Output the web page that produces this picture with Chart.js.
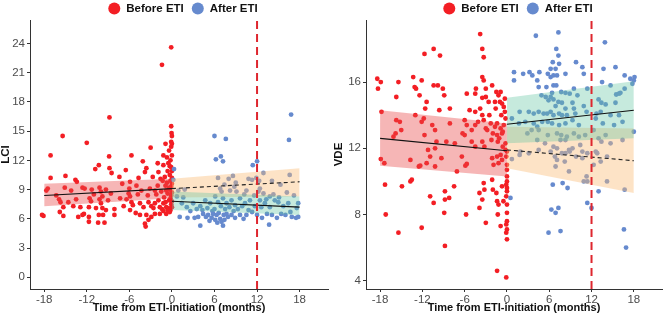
<!DOCTYPE html>
<html><head><meta charset="utf-8">
<script src="https://cdn.jsdelivr.net/npm/chart.js@4/dist/chart.umd.min.js"></script>
<style>
html,body{margin:0;padding:0;background:#fff;}
#wrap{position:relative;width:666px;height:317px;overflow:hidden;}
.panel{position:absolute;top:0;width:333px;height:317px;}
</style></head><body>
<div id="wrap">
<div class="panel" style="left:0"><canvas id="c1" width="333" height="317"></canvas></div>
<div class="panel" style="left:333px"><canvas id="c2" width="333" height="317"></canvas></div>
</div>
<script>
// ---------- data ----------
const legendLabels = ['Before ETI', 'After ETI'];
const xTitle = 'Time from ETI-initiation (months)';
const xTicks = [-18, -12, -6, 0, 6, 12, 18];
const lciTicks = [0, 3, 6, 9, 12, 15, 18, 21, 24];
const vdeTicks = [4, 8, 12, 16];
const cutoffMonth = 12;

// LCI, before ETI: [months, LCI]
const lciBefore = [[-18.3,6.4],[-18.1,6.3],[-17.7,8.9],[-17.5,9.1],[-17.1,10.2],[-17.1,12.5],[-15.9,8.0],[-15.8,6.7],[-15.7,7.7],[-15.4,14.5],[-15.3,7.2],[-15.3,6.3],[-15.1,9.2],[-15.0,10.4],[-14.6,7.7],[-13.6,10.0],[-13.5,8.0],[-13.4,9.8],[-13.2,6.2],[-12.9,7.2],[-12.6,9.2],[-12.6,6.4],[-12.4,6.5],[-12.3,9.1],[-12.0,13.8],[-11.7,7.2],[-11.7,6.2],[-11.7,5.7],[-11.6,8.1],[-11.4,7.8],[-11.3,9.0],[-10.8,11.1],[-10.7,7.1],[-10.4,5.6],[-10.3,11.5],[-10.3,6.4],[-10.2,9.2],[-10.2,8.0],[-10.0,8.8],[-10.0,7.6],[-9.8,8.3],[-9.8,7.1],[-9.7,6.4],[-9.5,5.6],[-9.3,9.0],[-9.3,6.9],[-8.85,12.4],[-8.8,16.4],[-8.8,11.2],[-8.6,8.6],[-8.5,10.7],[-8.1,7.0],[-8.1,6.4],[-7.4,10.3],[-7.3,8.1],[-6.4,8.0],[-6.1,8.6],[-6.0,9.1],[-5.9,9.8],[-5.9,8.3],[-5.9,6.9],[-5.7,12.5],[-5.7,7.7],[-5.5,7.4],[-5.1,6.6],[-4.8,8.5],[-4.5,7.6],[-4.5,6.4],[-4.3,8.9],[-4.1,11.9],[-4.0,7.2],[-3.8,10.8],[-3.8,5.5],[-3.7,5.2],[-3.6,11.2],[-3.6,6.4],[-3.3,7.7],[-3.3,5.9],[-3.1,9.1],[-3.0,13.3],[-2.9,7.3],[-2.9,6.2],[-2.4,8.9],[-2.4,7.6],[-2.4,6.5],[-2.2,8.5],[-1.9,10.8],[-1.9,7.9],[-1.7,7.2],[-1.7,6.5],[-1.5,8.8],[-1.4,21.8],[-1.2,12.5],[-1.2,11.5],[-1.2,7.6],[-1.2,6.8],[-0.9,13.7],[-0.8,7.2],[-0.8,6.5],[-0.5,11.7],[-0.5,7.1],[-0.4,7.9],[-0.1,23.6],[-0.1,15.5],[-0.05,14.8],[0,14.5],[-0.1,13.9],[0,13.7],[-0.1,13.4],[0,12.5],[-0.2,12.0],[-0.1,11.3],[0,10.9],[-0.3,10.5],[0,10.2],[-0.2,9.9],[0,9.6],[-0.1,9.3],[-0.3,9.0],[0,8.7],[-0.1,8.4],[-0.2,8.1],[0,7.8],[-0.1,7.5],[0,7.2],[-0.2,6.9],[-1.0,10.3],[-0.7,9.7],[-0.9,9.4],[-0.6,8.6],[-1.1,8.2],[-0.8,8.9],[-0.6,10.9],[-1.3,9.9],[-0.4,9.2],[-0.9,7.7],[-0.6,6.9],[-1.4,7.0],[-2.0,9.4],[-1.6,10.1],[-2.6,7.1],[-3.4,8.4],[-0.3,11.4],[-0.7,12.3],[-0.4,13.0],[-0.3,6.7],[-16.3,8.4],[-14.2,8.9],[-13.9,7.3],[-11.0,8.5],[-9.0,7.9],[-7.0,9.6],[-6.8,7.3],[-5.0,9.4],[-4.7,10.2],[-6.5,11.0],[-2.7,10.3],[-2.0,11.7]];

// LCI, after ETI
const lciAfter = [[0.2,10.0],[0.3,11.1],[0.7,8.3],[0.9,8.9],[1.1,6.2],[1.4,7.6],[1.8,9.0],[2.1,7.2],[2.2,6.1],[3.0,7.6],[3.2,6.1],[3.7,6.2],[4.0,7.3],[4.0,5.3],[4.4,6.5],[4.7,7.9],[4.8,6.2],[5.1,6.4],[5.4,7.6],[5.6,6.1],[5.8,6.5],[6.0,14.5],[6.1,8.3],[6.1,5.9],[6.2,12.1],[6.3,6.4],[6.5,10.2],[6.5,7.7],[6.8,9.1],[6.8,6.0],[6.9,12.4],[7.0,8.8],[7.0,5.7],[7.2,11.9],[7.2,8.1],[7.2,5.3],[7.3,6.4],[7.6,14.2],[7.7,7.6],[7.7,6.5],[8.0,10.1],[8.2,8.9],[8.4,7.9],[8.4,6.4],[8.6,10.4],[8.8,9.3],[8.9,7.4],[8.9,6.1],[9.1,8.8],[9.6,8.1],[9.6,6.4],[10.1,6.0],[10.3,7.6],[10.5,8.9],[10.5,6.4],[10.8,10.1],[11.0,7.9],[11.3,10.0],[11.3,6.7],[11.4,11.5],[11.7,7.3],[12.0,11.9],[12.0,6.4],[12.2,8.8],[12.3,9.9],[12.4,9.1],[12.4,7.9],[12.7,6.1],[12.9,10.7],[12.9,8.6],[13.1,7.6],[13.4,6.5],[13.7,5.4],[13.8,8.3],[13.8,7.2],[14.1,9.9],[14.1,6.4],[14.5,7.9],[14.8,6.1],[15.0,7.7],[15.3,9.5],[15.4,6.5],[15.7,7.3],[16.0,6.4],[16.4,7.6],[16.5,14.1],[16.6,10.5],[16.7,6.7],[16.8,16.7],[16.9,6.2],[17.5,6.1],[17.6,7.1],[17.8,7.6],[17.8,6.2],[4.3,6.9],[5.0,7.1],[5.3,5.8],[5.7,6.8],[6.0,7.0],[6.4,5.6],[6.6,6.6],[6.9,7.3],[7.4,5.9],[7.5,7.0],[7.9,6.2],[8.1,7.2],[8.7,6.8],[9.3,7.0],[9.9,7.3],[10.8,6.9],[11.6,8.4],[12.6,7.2],[13.3,8.0],[14.3,8.5],[15.1,8.2],[16.2,8.7],[17.2,8.4],[3.5,7.0],[2.6,6.8],[1.6,8.2],[9.0,9.7],[7.4,9.5],[10.2,8.5],[11.9,10.2]];

// VDE, before ETI
const vdeBefore = [[-3.8,18.9],[-3.5,18.0],[-3.3,17.5],[-11.7,17.7],[-10.4,18.0],[-9.5,17.6],[-18.4,16.2],[-17.9,16.0],[-18.3,15.6],[-15.4,16.0],[-15.7,15.1],[-13.3,16.3],[-12.1,16.1],[-13.1,15.7],[-12.9,15.6],[-12.4,15.2],[-10.4,15.8],[-9.8,15.8],[-9.1,15.6],[-8.9,15.2],[-11.4,14.8],[-11.6,14.4],[-8.1,14.4],[-9.6,14.3],[-3.5,16.3],[-4.4,15.6],[-3.3,16.1],[-3.0,15.6],[-2.1,15.8],[-5.7,15.3],[-4.5,15.3],[-3.5,15.05],[-3.0,15.1],[-1.5,15.4],[-0.9,15.4],[-1.2,15.2],[-2.6,14.8],[-1.7,14.8],[-1.0,14.8],[-0.7,14.7],[-0.45,14.5],[-0.8,14.0],[-5.3,14.3],[-4.5,14.2],[-3.8,14.4],[-1.6,14.4],[-2.5,14.0],[-3.5,14.0],[-3.3,13.7],[-4.1,13.6],[-17.8,14.2],[-15.7,13.7],[-15.2,13.6],[-13.0,14.0],[-11.8,13.8],[-12.1,13.6],[-10.6,13.4],[-10.2,13.1],[-15.0,13.1],[-15.8,12.9],[-16.1,12.7],[-11.7,12.8],[-8.1,13.5],[-6.0,13.7],[-5.7,13.4],[-6.3,12.9],[-6.0,12.8],[-5.0,13.1],[-4.5,13.4],[-3.0,13.2],[-2.3,13.5],[-1.7,13.3],[-1.4,13.5],[-0.9,13.2],[-0.45,13.4],[-0.7,12.9],[-1.4,12.8],[-2.8,13.1],[-10.0,12.4],[-8.6,12.4],[-7.4,12.3],[-5.0,12.4],[-4.5,12.1],[-3.5,12.4],[-3.2,12.1],[-2.2,12.5],[-1.3,12.4],[-0.6,12.1],[-0.2,12.3],[-11.2,11.9],[-10.2,12.0],[-17.9,11.35],[-17.4,11.1],[-13.7,11.3],[-12.5,10.9],[-12.3,10.95],[-11.4,11.1],[-10.9,11.5],[-10.2,10.9],[-9.3,11.4],[-6.4,11.5],[-5.9,10.95],[-5.7,11.05],[-7.1,10.6],[-2.1,11.4],[-1.9,11.0],[-1.4,11.5],[-1.2,11.1],[-0.9,11.6],[-0.7,11.3],[-17.3,9.8],[-14.9,9.7],[-13.5,10.1],[-13.7,10.0],[-10.9,9.1],[-10.4,8.7],[-8.8,9.4],[-8.8,8.9],[-8.2,9.0],[-7.5,9.7],[-3.3,9.9],[-3.9,9.3],[-3.2,9.5],[-3.5,8.9],[-2.1,10.1],[-2.0,9.5],[-1.5,9.3],[-1.4,8.8],[-1.2,8.6],[-0.7,9.7],[-0.5,8.8],[0,10.3],[0,10.0],[-0.1,9.8],[0,9.6],[0,9.4],[-0.1,9.1],[0,8.6],[0,8.1],[0,7.6],[-0.1,7.4],[0,7.1],[-0.1,6.9],[0,6.5],[0,11.8],[-0.1,11.5],[0,11.0],[0,10.7],[-17.2,8.0],[-15.4,6.9],[-12.1,7.2],[-8.9,8.1],[-8.8,6.1],[-5.8,8.0],[-3.9,8.4],[-3.0,7.5],[-1.3,8.0],[-0.9,7.3],[-1.4,4.6],[-0.1,4.2],[-0.3,14.2],[-0.2,13.8],[-0.6,13.0],[-1.1,12.6],[-2.0,12.9],[-0.3,15.0],[-0.2,11.9]];

// VDE, after ETI
const vdeAfter = [[4.1,18.8],[7.3,19.0],[13.9,18.4],[7.0,18.0],[7.3,17.6],[6.5,17.2],[7.4,17.1],[6.2,16.8],[6.9,16.8],[9.8,17.2],[10.7,16.9],[13.7,16.8],[15.4,16.9],[1.0,16.6],[2.3,16.5],[3.2,16.6],[3.6,16.4],[4.6,16.6],[5.8,16.5],[6.2,16.3],[6.6,16.4],[7.1,16.4],[8.3,16.5],[10.9,16.5],[16.7,16.4],[17.5,16.2],[18.1,16.3],[1.0,16.1],[4.3,16.1],[4.5,15.7],[5.6,15.7],[6.6,15.8],[7.0,15.8],[7.7,15.4],[8.3,15.35],[8.9,15.3],[9.5,15.6],[11.4,15.6],[13.5,16.0],[14.7,15.8],[15.5,15.25],[16.1,15.35],[16.7,15.6],[17.8,15.9],[18.0,16.1],[4.9,15.2],[5.5,15.1],[5.9,14.9],[6.2,15.1],[6.4,15.35],[6.6,14.95],[6.9,14.55],[7.3,14.8],[7.8,14.75],[8.3,14.4],[9.3,14.75],[9.5,14.4],[10.0,15.2],[10.9,14.55],[13.0,14.95],[13.4,14.75],[14.0,14.65],[15.4,14.75],[15.9,15.3],[1.8,14.2],[3.1,14.2],[3.8,14.1],[4.5,14.2],[5.2,14.1],[5.7,14.1],[6.2,14.2],[6.6,14.0],[7.4,14.1],[7.8,14.0],[8.5,14.0],[9.7,14.1],[11.3,14.2],[12.7,14.1],[13.3,14.2],[14.7,14.0],[15.9,14.0],[0.7,13.8],[1.7,13.5],[2.6,13.6],[3.8,13.5],[4.3,13.3],[5.0,13.6],[5.8,13.6],[6.4,13.5],[7.4,13.4],[8.3,13.5],[9.3,13.7],[10.2,13.4],[12.6,13.8],[13.6,13.5],[15.2,13.4],[16.4,13.6],[2.9,12.9],[3.5,13.1],[4.5,13.1],[5.8,12.8],[7.1,12.9],[7.7,12.8],[8.5,12.7],[9.5,12.9],[10.2,12.7],[11.1,12.8],[12.3,13.1],[13.0,12.6],[14.0,12.8],[18.0,13.0],[4.3,12.5],[5.4,12.3],[6.6,12.1],[7.6,12.5],[8.3,12.5],[9.3,12.0],[10.4,12.2],[13.4,12.4],[14.7,12.3],[16.4,12.5],[1.9,11.8],[3.1,11.7],[4.5,11.9],[6.2,11.8],[7.1,12.0],[8.8,11.9],[10.7,11.8],[12.6,11.8],[0.7,11.35],[1.8,11.6],[6.8,11.5],[7.1,11.3],[7.8,11.7],[8.3,11.7],[8.9,11.8],[8.2,11.2],[6.9,10.9],[8.8,10.6],[9.8,11.5],[10.7,11.4],[11.4,11.7],[12.3,11.0],[12.8,11.7],[13.3,11.2],[14.2,11.5],[11.3,10.3],[10.9,10.0],[11.4,10.0],[14.2,10.0],[6.5,9.8],[7.9,9.9],[8.6,9.6],[13.0,9.4],[16.7,9.5],[0.5,9.0],[11.4,8.7],[12.0,8.4],[6.3,8.3],[6.9,8.1],[7.3,8.4],[5.9,6.9],[7.6,7.0],[16.6,7.1],[16.9,6.0]];

// fitted trends (x at segment ends) with 95% bands
const preX = [-18, 0];
const postX = [0, 18];
const lciPreFit = [8.4, 9.1],  lciPreLo = [7.3, 8.1],  lciPreHi = [9.6, 10.1];
const lciPostFit = [7.8, 7.2], lciPostLo = [6.9, 6.4], lciPostHi = [8.8, 8.3];
const lciCfFit = [9.1, 9.8],   lciCfLo = [8.2, 8.3],   lciCfHi = [10.1, 11.2];
const vdePreFit = [12.6, 11.85], vdePreLo = [10.95, 10.3], vdePreHi = [14.3, 13.5];
const vdePostFit = [13.45, 14.3], vdePostLo = [12.3, 12.6], vdePostHi = [15.05, 16.05];
const vdeCfFit = [11.9, 11.25],  vdeCfLo = [10.8, 9.3],   vdeCfHi = [13.3, 13.2];

// ---------- styling ----------
const FONT = '"Liberation Sans", Arial, sans-serif';
const RED = 'rgb(243,30,36)';
const BLUE = 'rgb(102,138,206)';
const PINK_BAND = 'rgba(232,72,72,0.40)';
const ORANGE_BAND = 'rgba(250,188,118,0.42)';
const GREEN_BAND = 'rgba(96,198,160,0.36)';

const toPts = (xs, ys) => xs.map((x, i) => ({x, y: ys[i]}));
const pairPts = arr => arr.map(p => ({x: p[0], y: p[1]}));

const legendPlugin = {
  id: 'customLegend',
  afterDraw(chart) {
    const ctx = chart.ctx, ca = chart.chartArea;
    ctx.save();
    ctx.font = 'bold 11.5px ' + FONT;
    const r = 6, gap = 6, itemGap = 8;
    const w1 = ctx.measureText(legendLabels[0]).width;
    const w2 = ctx.measureText(legendLabels[1]).width;
    const total = 2 * r + gap + w1 + itemGap + 2 * r + gap + w2;
    let x = (ca.left + ca.right) / 2 - total / 2 + 4;
    const y = 8.5;
    ctx.textBaseline = 'middle';
    ctx.textAlign = 'left';
    ctx.fillStyle = RED;
    ctx.beginPath(); ctx.arc(x + r, y, r, 0, Math.PI * 2); ctx.fill();
    x += 2 * r + gap;
    ctx.fillStyle = '#111';
    ctx.fillText(legendLabels[0], x, y + 0.5);
    x += w1 + itemGap;
    ctx.fillStyle = BLUE;
    ctx.beginPath(); ctx.arc(x + r, y, r, 0, Math.PI * 2); ctx.fill();
    x += 2 * r + gap;
    ctx.fillStyle = '#111';
    ctx.fillText(legendLabels[1], x, y + 0.5);
    ctx.restore();
  }
};

function lineDs(data, color, dash, order) {
  return {type: 'scatter', data, showLine: true, borderColor: color, borderWidth: 1.1,
          borderDash: dash, pointRadius: 0, fill: false, order};
}
function bandDs(hi, lo, color, order) {
  return [
    {type: 'scatter', data: hi, showLine: true, borderColor: 'rgba(0,0,0,0)', borderWidth: 0,
     pointRadius: 0, backgroundColor: color, fill: '+1', order},
    {type: 'scatter', data: lo, showLine: true, borderColor: 'rgba(0,0,0,0)', borderWidth: 0,
     pointRadius: 0, fill: false, order}
  ];
}

function makeChart(id, o) {
  const datasets = [
    {type: 'scatter', data: [{x: cutoffMonth, y: o.yMin}, {x: cutoffMonth, y: o.yMax}], showLine: true,
     borderColor: 'rgb(222,38,46)', borderWidth: 2, borderDash: [8, 5], pointRadius: 0, fill: false, order: 0},
    lineDs(toPts(preX, o.preFit), '#111', [], 1),
    lineDs(toPts(postX, o.postFit), '#111', [], 1),
    lineDs(toPts(postX, o.cfFit), '#222', [4, 3], 1),
    ...bandDs(toPts(postX, o.postHi), toPts(postX, o.postLo), GREEN_BAND, 2),
    ...bandDs(toPts(postX, o.cfHi), toPts(postX, o.cfLo), ORANGE_BAND, 3),
    ...bandDs(toPts(preX, o.preHi), toPts(preX, o.preLo), PINK_BAND, 4),
    {type: 'scatter', data: pairPts(o.after), backgroundColor: BLUE, pointRadius: 2.4, pointBorderWidth: 0, borderWidth: 0, order: 5},
    {type: 'scatter', data: pairPts(o.before), backgroundColor: RED, pointRadius: 2.4, pointBorderWidth: 0, borderWidth: 0, order: 6}
  ];
  return new Chart(document.getElementById(id), {
    type: 'scatter',
    data: {datasets},
    plugins: [legendPlugin],
    options: {
      responsive: false, animation: false, events: [],
      layout: {padding: {top: 20, right: o.rightPad, left: 0, bottom: 0}},
      plugins: {legend: {display: false}, tooltip: {enabled: false}},
      scales: {
        x: {
          type: 'linear', min: -20, max: 22,
          afterBuildTicks: s => { s.ticks = xTicks.map(v => ({value: v})); },
          afterFit: s => { s.height = 28; },
          ticks: {color: '#4d4d4d', font: {size: 11.5, family: FONT}, padding: 1, maxRotation: 0, autoSkip: false},
          grid: {display: true, drawOnChartArea: false, drawTicks: true, tickLength: 3, color: '#333'},
          border: {display: true, color: '#333', width: 1},
          title: {display: true, text: xTitle, color: '#111', font: {size: 11, weight: 'bold', family: FONT}, padding: {top: 0, bottom: 2}}
        },
        y: {
          type: 'linear', min: o.yMin, max: o.yMax,
          afterBuildTicks: s => { s.ticks = o.yTicks.map(v => ({value: v})); },
          afterFit: s => { s.width = o.yWidth; },
          ticks: {color: '#4d4d4d', font: {size: 11.5, family: FONT}, padding: 2, autoSkip: false},
          grid: {display: true, drawOnChartArea: false, drawTicks: true, tickLength: 3, color: '#333'},
          border: {display: true, color: '#333', width: 1},
          title: {display: true, text: o.yTitle, color: '#111', font: {size: 11.5, weight: 'bold', family: FONT, lineHeight: 1}, padding: {top: 0, bottom: 0}}
        }
      }
    }
  });
}

makeChart('c1', {
  before: lciBefore, after: lciAfter, yMin: -1.2, yMax: 26.4, yTicks: lciTicks, yTitle: 'LCI',
  yWidth: 30, rightPad: 5,
  preFit: lciPreFit, preLo: lciPreLo, preHi: lciPreHi,
  postFit: lciPostFit, postLo: lciPostLo, postHi: lciPostHi,
  cfFit: lciCfFit, cfLo: lciCfLo, cfHi: lciCfHi
});
makeChart('c2', {
  before: vdeBefore, after: vdeAfter, yMin: 3.5, yMax: 19.75, yTicks: vdeTicks, yTitle: 'VDE',
  yWidth: 33, rightPad: 3,
  preFit: vdePreFit, preLo: vdePreLo, preHi: vdePreHi,
  postFit: vdePostFit, postLo: vdePostLo, postHi: vdePostHi,
  cfFit: vdeCfFit, cfLo: vdeCfLo, cfHi: vdeCfHi
});
</script>
</body></html>
